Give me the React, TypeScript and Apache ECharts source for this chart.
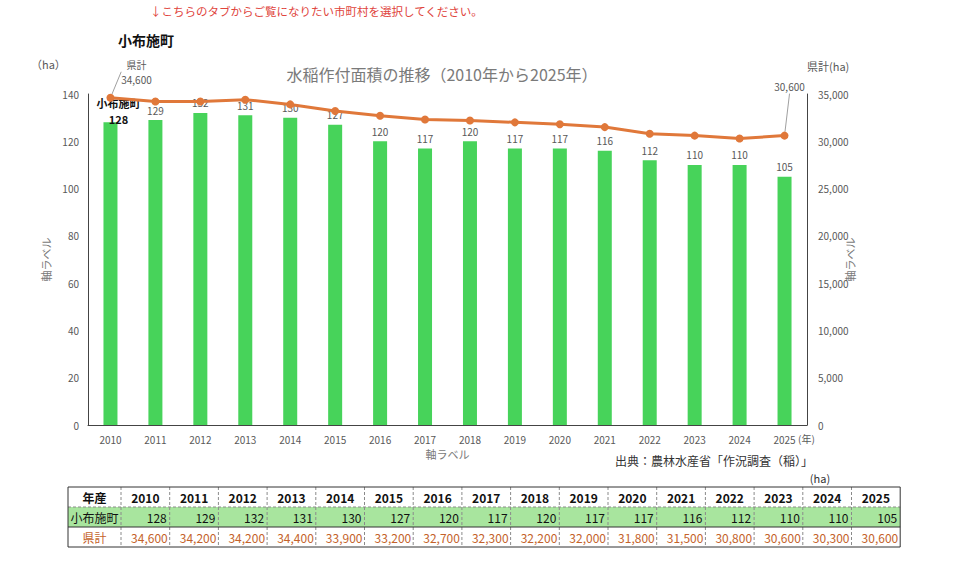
import React, { useEffect, useRef } from "react";
import * as echarts from "echarts";

// 水稲作付面積（小布施町・県計）
const years = ["2010", "2011", "2012", "2013", "2014", "2015", "2016", "2017", "2018", "2019", "2020", "2021", "2022", "2023", "2024", "2025"];
const townArea = [128, 129, 132, 131, 130, 127, 120, 117, 120, 117, 117, 116, 112, 110, 110, 105];
const prefArea = [34600, 34200, 34200, 34400, 33900, 33200, 32700, 32300, 32200, 32000, 31800, 31500, 30800, 30600, 30300, 30600];

const townName = "小布施町";
const prefName = "県計";
const chartTitle = "水稲作付面積の推移（2010年から2025年）";
const noticeText = "↓こちらのタブからご覧になりたい市町村を選択してください。";
const sourceText = "出典：農林水産省「作況調査（稲）」";

const FONT = "'Noto Sans CJK JP', 'Noto Sans', sans-serif";
const GREEN = "#47D35A";
const ORANGE = "#E0783A";
const BROWN = "#C4622A";
const GRAY = "#595959";

const fmt = (n: number) => n.toLocaleString("en-US");

function buildTable(): any[] {
  const left = 68;
  const firstW = 53;
  const colW = 48.7;
  const top = 487;
  const rowH = 20;
  const width = firstW + colW * years.length;
  const els: any[] = [];

  // green band for the town row
  els.push({
    type: "rect",
    shape: { x: left, y: top + rowH, width, height: rowH },
    style: { fill: "#A8E59E" },
  });

  // inner vertical separators
  for (let i = 0; i < years.length; i++) {
    const x = left + firstW + colW * i;
    els.push({
      type: "line",
      shape: { x1: x, y1: top, x2: x, y2: top + rowH * 3 },
      style: { stroke: "#8a8a8a", lineWidth: 1, lineDash: [3, 2] },
    });
  }
  // horizontal separators
  els.push({
    type: "line",
    shape: { x1: left, y1: top + rowH, x2: left + width, y2: top + rowH },
    style: { stroke: "#8a8a8a", lineWidth: 1, lineDash: [3, 2] },
  });
  els.push({
    type: "line",
    shape: { x1: left, y1: top + rowH * 2, x2: left + width, y2: top + rowH * 2 },
    style: { stroke: "#333", lineWidth: 1 },
  });
  // outer frame
  els.push({
    type: "rect",
    shape: { x: left, y: top, width, height: rowH * 3 },
    style: { fill: "none", stroke: "#333", lineWidth: 1 },
  });

  const cy = (r: number) => top + rowH * r + rowH / 2;

  els.push({
    type: "text",
    x: left + firstW / 2,
    y: cy(0),
    style: { text: "年産", font: `bold 12px ${FONT}`, fill: "#111", align: "center", verticalAlign: "middle" },
  });
  els.push({
    type: "text",
    x: left + firstW / 2,
    y: cy(1),
    style: { text: townName, font: `12px ${FONT}`, fill: "#111", align: "center", verticalAlign: "middle" },
  });
  els.push({
    type: "text",
    x: left + firstW / 2,
    y: cy(2),
    style: { text: prefName, font: `12px ${FONT}`, fill: BROWN, align: "center", verticalAlign: "middle" },
  });

  years.forEach((y, i) => {
    const x0 = left + firstW + colW * i;
    els.push({
      type: "text",
      x: x0 + colW / 2,
      y: cy(0),
      style: { text: y, font: `bold 12px ${FONT}`, fill: "#111", align: "center", verticalAlign: "middle" },
    });
    els.push({
      type: "text",
      x: x0 + colW - 3,
      y: cy(1),
      style: { text: String(townArea[i]), font: `12px ${FONT}`, fill: "#111", align: "right", verticalAlign: "middle" },
    });
    els.push({
      type: "text",
      x: x0 + colW - 2,
      y: cy(2),
      style: { text: fmt(prefArea[i]), font: `12px ${FONT}`, fill: BROWN, align: "right", verticalAlign: "middle" },
    });
  });

  els.push({
    type: "text",
    x: 820,
    y: top - 9,
    style: { text: "(ha)", font: `11px ${FONT}`, fill: "#333", align: "center", verticalAlign: "middle" },
  });
  return els;
}

export default function App() {
  const ref = useRef<HTMLDivElement>(null);

  useEffect(() => {
    if (!ref.current) return;
    const chart = echarts.init(ref.current, undefined, { renderer: "svg" });
    const last = years.length - 1;

    const option: any = {
      animation: false,
      backgroundColor: "#ffffff",
      textStyle: { fontFamily: FONT },
      title: {
        text: chartTitle,
        left: 437,
        top: 61,
        textAlign: "center",
        textStyle: { fontSize: 16, fontWeight: "normal", color: "#7a7a7a", fontFamily: FONT },
      },
      grid: { left: 88, right: 153, top: 94, bottom: 143 },
      xAxis: {
        type: "category",
        data: years,
        name: "軸ラベル",
        nameLocation: "middle",
        nameGap: 23,
        nameTextStyle: { fontSize: 11, color: "#7a7a7a" },
        axisLine: { lineStyle: { color: "#444", width: 1 } },
        axisTick: { show: false },
        axisLabel: { fontSize: 10, color: GRAY, margin: 9 },
      },
      yAxis: [
        {
          type: "value",
          min: 0,
          max: 140,
          interval: 20,
          name: "軸ラベル",
          nameLocation: "middle",
          nameGap: 34,
          nameRotate: 90,
          nameTextStyle: { fontSize: 11, color: "#7a7a7a" },
          axisLine: { show: true, lineStyle: { color: "#444", width: 1 } },
          axisTick: { show: false },
          splitLine: { show: false },
          axisLabel: { fontSize: 10, color: GRAY, margin: 9 },
        },
        {
          type: "value",
          min: 0,
          max: 35000,
          interval: 5000,
          position: "right",
          name: "軸ラベル",
          nameLocation: "middle",
          nameGap: 37,
          nameMoveOverlap: false,
          nameRotate: 90,
          nameTextStyle: { fontSize: 11, color: "#7a7a7a" },
          axisLine: { show: true, lineStyle: { color: "#444", width: 1 } },
          axisTick: { show: false },
          splitLine: { show: false },
          axisLabel: { fontSize: 10, color: GRAY, margin: 11, formatter: (v: number) => fmt(v) },
        },
      ],
      series: [
        {
          name: townName,
          type: "bar",
          yAxisIndex: 0,
          barWidth: 14,
          itemStyle: { color: GREEN },
          label: { show: true, position: "top", fontSize: 10, color: GRAY, distance: 5 },
          data: townArea.map((v, i) =>
            i === 0
              ? {
                  value: v,
                  label: {
                    show: true,
                    position: "top",
                    offset: [8, 10],
                    formatter: `{n|${townName}}\n{v|${v}}`,
                    rich: {
                      n: { fontSize: 11, fontWeight: "bold", color: "#111", lineHeight: 16, fontFamily: FONT },
                      v: { fontSize: 11, fontWeight: "bold", color: "#111", lineHeight: 16, fontFamily: FONT },
                    },
                  },
                }
              : v
          ),
          z: 2,
        },
        {
          name: prefName,
          type: "line",
          yAxisIndex: 1,
          symbol: "circle",
          symbolSize: 8,
          lineStyle: { color: ORANGE, width: 3 },
          itemStyle: { color: ORANGE },
          label: {
            show: false,
            fontSize: 10,
            color: GRAY,
            lineHeight: 15,
            formatter: (p: any) => (p.dataIndex === 0 ? `${p.seriesName}\n${fmt(p.value)}` : fmt(p.value)),
          },
          labelLine: { show: true, lineStyle: { color: "#a0a0a0", width: 1 } },
          labelLayout: (p: any) =>
            p.dataIndex === 0 ? { dx: 26, dy: -2 } : { dx: 5, dy: -33 },
          data: prefArea.map((v, i) => ({
            value: v,
            label: { show: i === 0 || i === last, position: "top", align: "center" },
          })),
          z: 3,
        },
      ],
      graphic: [
        {
          type: "text",
          x: 150,
          y: 11,
          style: { text: noticeText, font: `11.5px ${FONT}`, fill: "#E0443C", verticalAlign: "middle" },
        },
        {
          type: "text",
          x: 118,
          y: 40,
          style: { text: townName, font: `bold 14px ${FONT}`, fill: "#111", verticalAlign: "middle" },
        },
        {
          type: "text",
          x: 31,
          y: 64,
          style: { text: "（ha）", font: `11px ${FONT}`, fill: GRAY, verticalAlign: "middle" },
        },
        {
          type: "text",
          x: 807,
          y: 66,
          style: { text: "県計(ha)", font: `11px ${FONT}`, fill: GRAY, verticalAlign: "middle" },
        },
        {
          type: "text",
          x: 798,
          y: 438,
          style: { text: "(年)", font: `10px ${FONT}`, fill: GRAY, verticalAlign: "middle" },
        },
        {
          type: "text",
          x: 615,
          y: 460,
          style: { text: sourceText, font: `12px ${FONT}`, fill: "#333", verticalAlign: "middle" },
        },
        ...buildTable(),
      ],
    };

    chart.setOption(option);
    return () => chart.dispose();
  }, []);

  return (
    <div
      ref={ref}
      style={{ position: "fixed", left: 0, top: 0, width: 960, height: 568, background: "#fff" }}
    />
  );
}
